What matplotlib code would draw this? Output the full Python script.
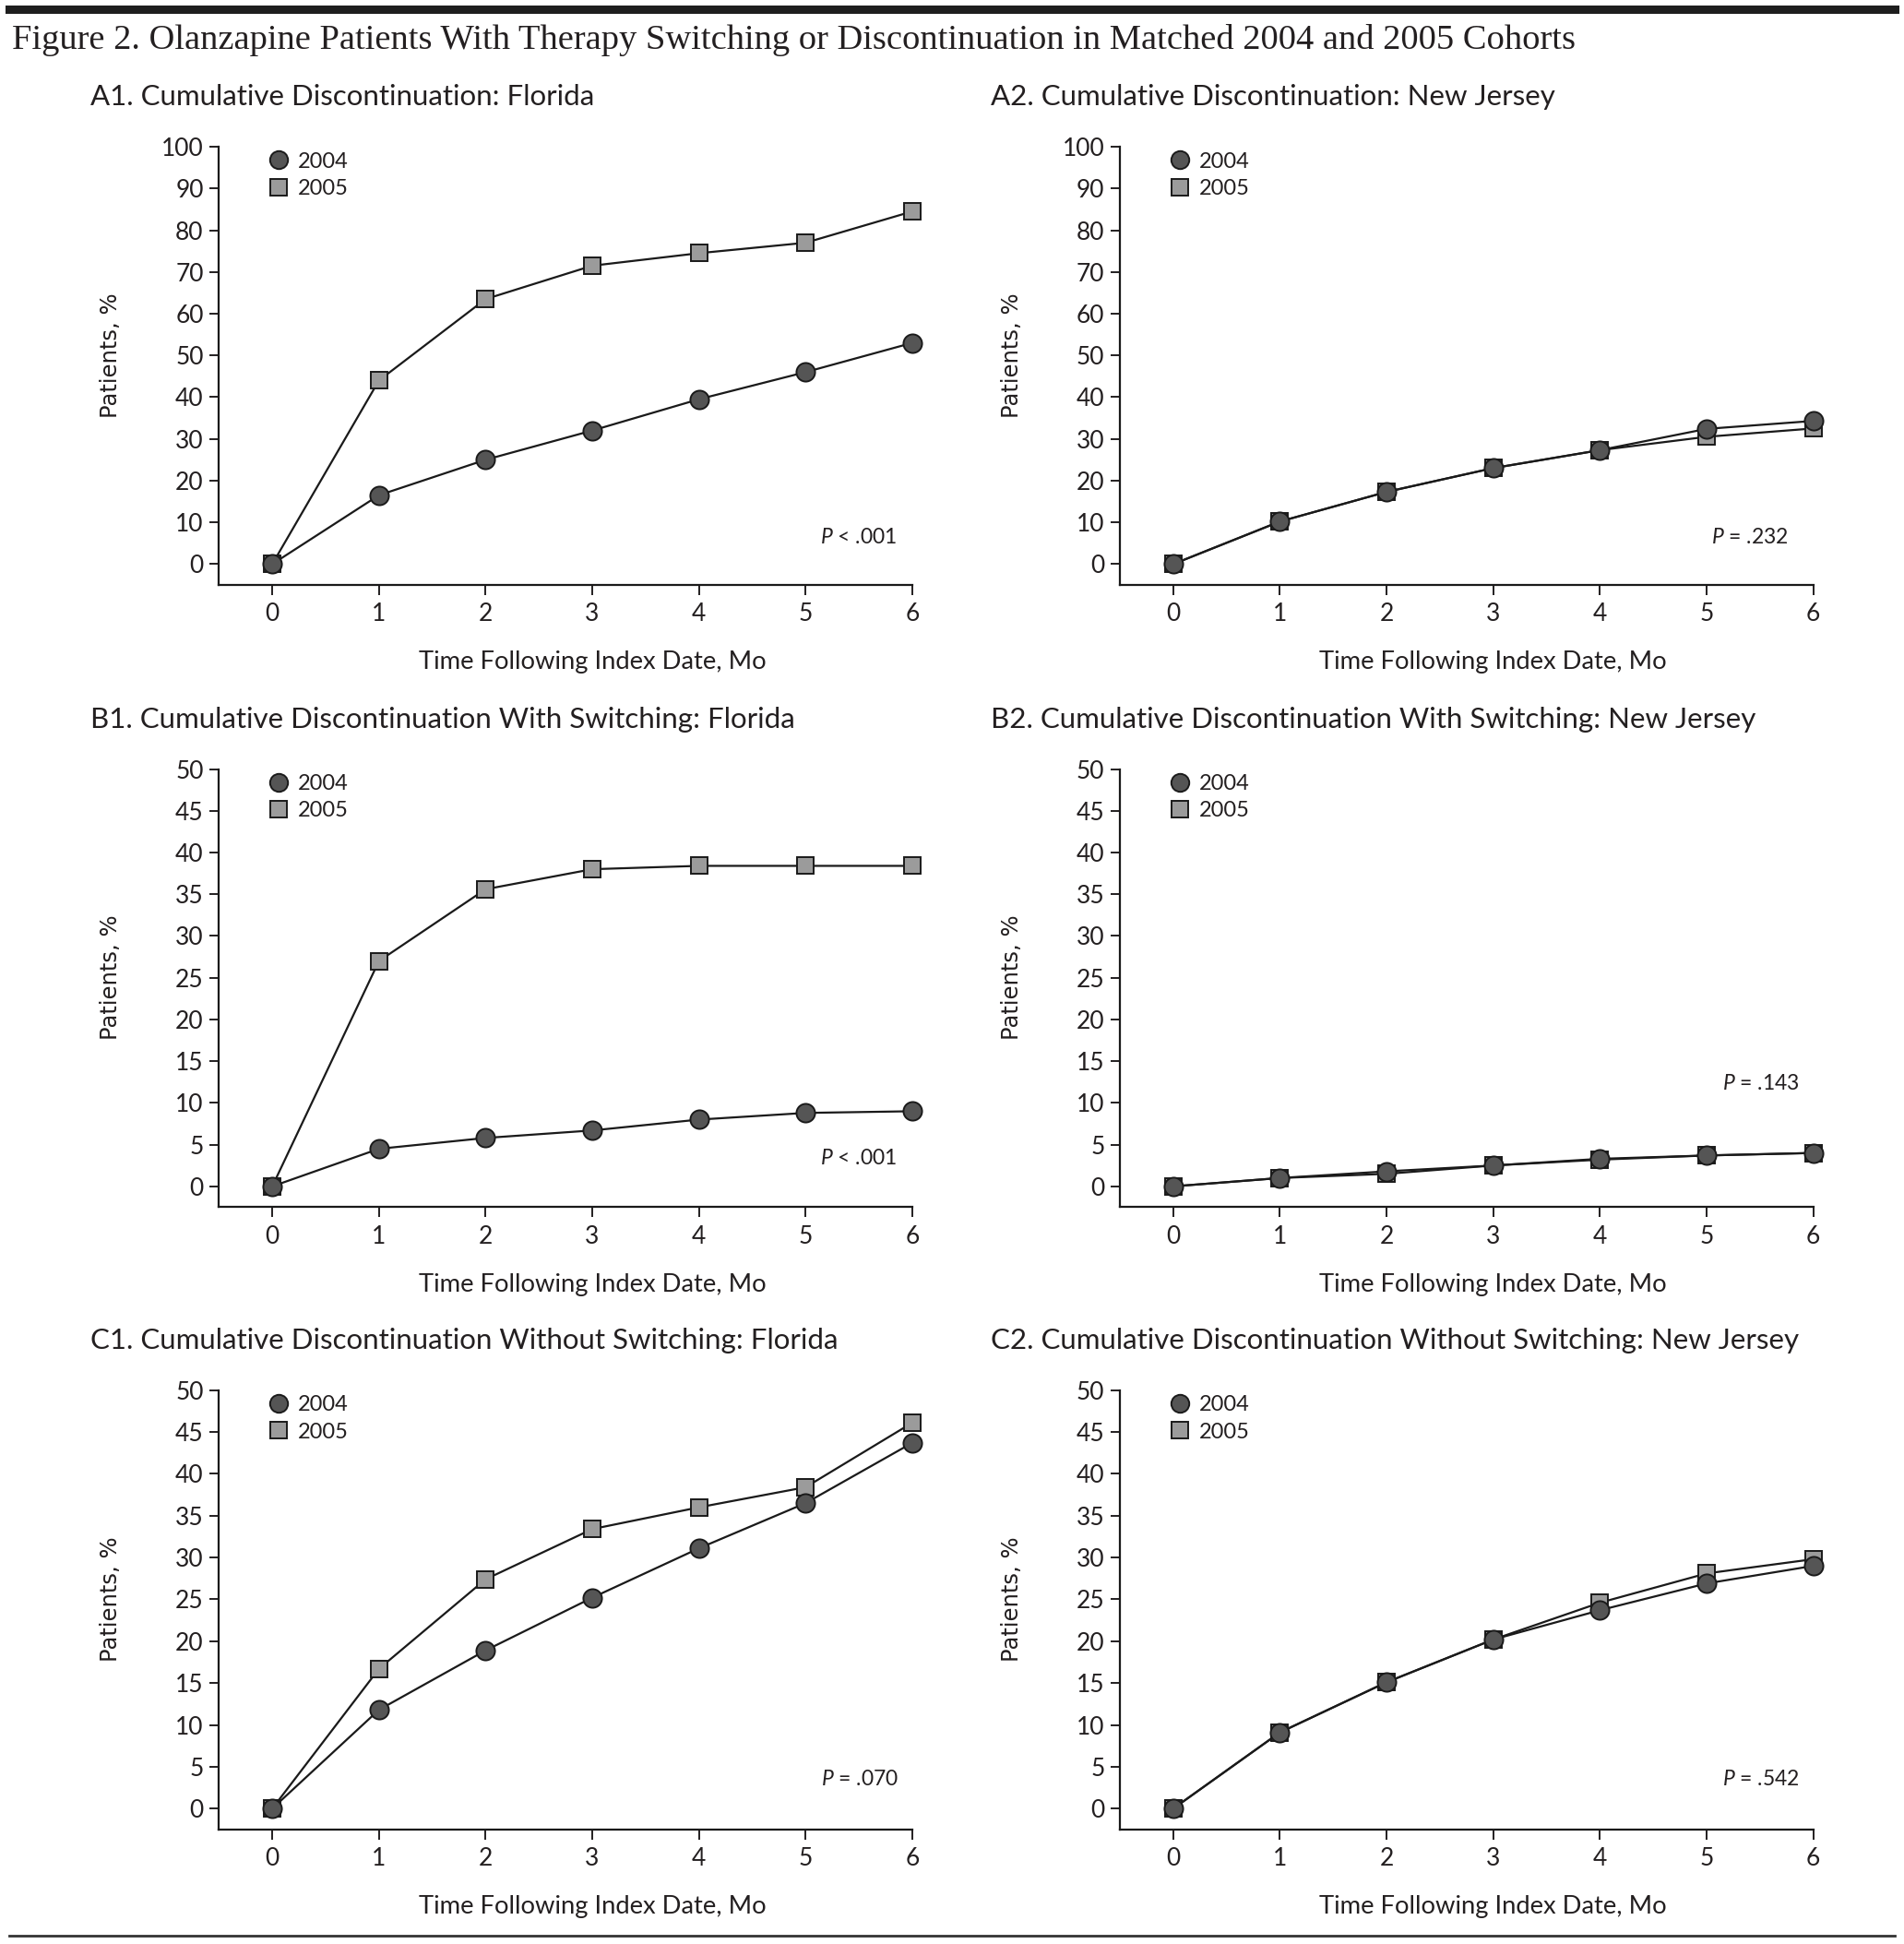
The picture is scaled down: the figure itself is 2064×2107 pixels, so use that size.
import matplotlib
matplotlib.use("Agg")
import matplotlib.pyplot as plt
from matplotlib.lines import Line2D

# data (months 0-6)
months = [0, 1, 2, 3, 4, 5, 6]

a1_2004 = [0, 16.5, 25.0, 32.0, 39.5, 46.0, 53.0]
a1_2005 = [0, 44.0, 63.5, 71.5, 74.5, 77.0, 84.5]
a2_2004 = [0, 10.2, 17.3, 23.0, 27.3, 32.4, 34.3]
a2_2005 = [0, 10.2, 17.3, 23.0, 27.3, 30.5, 32.5]

b1_2004 = [0, 4.5, 5.8, 6.7, 8.0, 8.8, 9.0]
b1_2005 = [0, 27.0, 35.6, 38.0, 38.4, 38.4, 38.4]
b2_2004 = [0, 1.0, 1.8, 2.5, 3.3, 3.7, 4.0]
b2_2005 = [0, 1.0, 1.5, 2.5, 3.2, 3.7, 4.0]

c1_2004 = [0, 11.8, 18.9, 25.2, 31.1, 36.5, 43.7]
c1_2005 = [0, 16.7, 27.4, 33.4, 36.0, 38.4, 46.1]
c2_2004 = [0, 9.1, 15.1, 20.2, 23.7, 26.9, 29.0]
c2_2005 = [0, 9.1, 15.1, 20.2, 24.6, 28.1, 29.8]

titles = ["A1. Cumulative Discontinuation: Florida",
          "A2. Cumulative Discontinuation: New Jersey",
          "B1. Cumulative Discontinuation With Switching: Florida",
          "B2. Cumulative Discontinuation With Switching: New Jersey",
          "C1. Cumulative Discontinuation Without Switching: Florida",
          "C2. Cumulative Discontinuation Without Switching: New Jersey"]
pvals = [("<", ".001"), ("=", ".232"), ("<", ".001"), ("=", ".143"), ("=", ".070"), ("=", ".542")]
pval_pos = [(0.978, 0.108), (0.964, 0.108), (0.978, 0.111), (0.980, 0.281), (0.980, 0.114), (0.980, 0.114)]

SANS = ["Lato", "DejaVu Sans"]
INK = "#231f20"
plt.rcParams["mathtext.fontset"] = "custom"
plt.rcParams["mathtext.it"] = "Lato:italic"
plt.rcParams["mathtext.rm"] = "Lato"

fig = plt.figure(figsize=(20.64, 21.07), dpi=100)

# horizontal rules
fig.add_artist(Line2D([0.005, 0.995], [1 - 9.5 / 2107] * 2, color="#1e1e1e", lw=6.5,
                      transform=fig.transFigure))
fig.add_artist(Line2D([0.005, 0.995], [1 - 2097.5 / 2107] * 2, color="#333333", lw=2,
                      transform=fig.transFigure))

fig.text(0.0065, 0.9795,
         "Figure 2. Olanzapine Patients With Therapy Switching or Discontinuation in Matched 2004 and 2005 Cohorts",
         family="Liberation Serif", fontsize=27.7, color=INK, va="center", ha="left")

lefts = [0.1150, 0.5882]
rows = [(0.6991, 0.9245), (0.3790, 0.6044), (0.0589, 0.2849)]
width = 0.3641
series = [(a1_2004, a1_2005), (a2_2004, a2_2005), (b1_2004, b1_2005),
          (b2_2004, b2_2005), (c1_2004, c1_2005), (c2_2004, c2_2005)]
title_x = [0.0477, 0.5203]
title_y = [0.950, 0.630, 0.3105]

for i, (s04, s05) in enumerate(series):
    r, c = divmod(i, 2)
    bot, top = rows[r]
    ax = fig.add_axes([lefts[c], bot, width, top - bot])
    ymax = 100 if r == 0 else 50
    step = 10 if r == 0 else 5

    ax.plot(months, s05, color="#1a1a1a", lw=1.6, marker="s", ms=13.5,
            mfc="#9b9b9b", mec="#1a1a1a", mew=1.4, zorder=3, clip_on=False)
    ax.plot(months, s04, color="#1a1a1a", lw=1.6, marker="o", ms=14.5,
            mfc="#555555", mec="#1a1a1a", mew=1.4, zorder=4, clip_on=False)

    ax.set_xlim(-0.5, 6)
    ax.set_ylim(-ymax * 0.05, ymax)
    ax.set_xticks(months)
    ax.set_yticks(range(0, ymax + 1, step))
    for sp in ["top", "right"]:
        ax.spines[sp].set_visible(False)
    for sp in ["left", "bottom"]:
        ax.spines[sp].set_linewidth(1.6)
        ax.spines[sp].set_color("#1a1a1a")
    ax.tick_params(axis="x", length=8, width=1.4, pad=6, labelsize=19, colors=INK)
    ax.tick_params(axis="y", length=7, width=1.4, pad=5, labelsize=19, colors=INK)
    for lab in ax.get_xticklabels() + ax.get_yticklabels():
        lab.set_family(SANS)

    ax.set_xlabel("Time Following Index Date, Mo", family=SANS, fontsize=19.7, color=INK)
    ax.xaxis.set_label_coords(0.5386, -0.15)
    ax.set_ylabel("Patients, %", family="DejaVu Sans", fontsize=17.5, color=INK)
    ax.yaxis.set_label_coords(-0.14, 0.524)

    handles = [Line2D([], [], ls="none", marker="o", ms=14, mfc="#555555", mec="#1a1a1a", mew=1.4),
               Line2D([], [], ls="none", marker="s", ms=13, mfc="#9b9b9b", mec="#1a1a1a", mew=1.4)]
    leg = ax.legend(handles, ["2004", "2005"], loc="upper left", bbox_to_anchor=(0.053, 1.013),
                    frameon=False, handlelength=1.1, handletextpad=0.35, labelspacing=0.35,
                    borderpad=0, prop={"family": SANS, "size": 17})
    for t in leg.get_texts():
        t.set_color(INK)

    sym, val = pvals[i]
    ax.text(pval_pos[i][0], pval_pos[i][1], r"$\mathit{P}$ " + sym + " " + val,
            transform=ax.transAxes, ha="right", va="center", fontsize=16.5,
            family=SANS, color=INK)

    fig.text(title_x[c], title_y[r], titles[i], family=SANS, fontsize=22.5,
             color=INK, va="center", ha="left")

fig.savefig("out.png", dpi=100)
